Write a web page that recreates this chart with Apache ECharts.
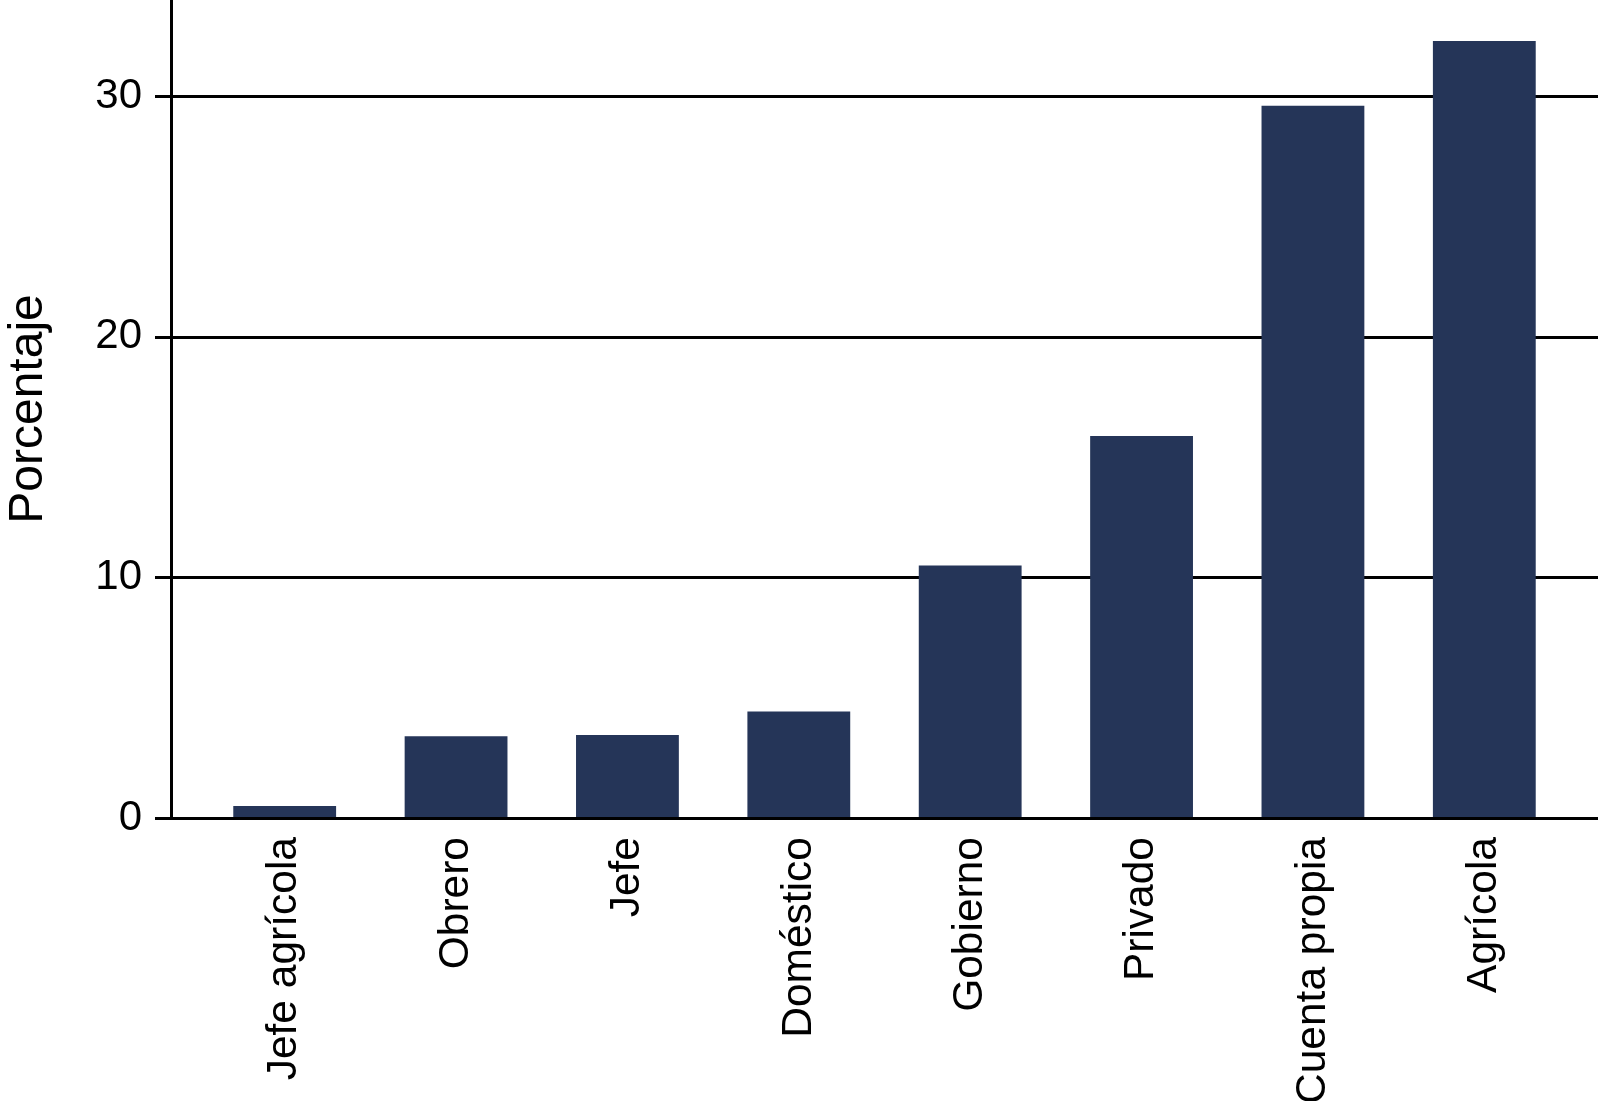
<!DOCTYPE html>
<html>
<head>
<meta charset="utf-8">
<script src="https://cdn.jsdelivr.net/npm/echarts@6/dist/echarts.min.js"></script>
<style>
html,body{margin:0;padding:0;background:#fff;}
#chart{width:1598px;height:1101px;}
</style>
</head>
<body>
<div id="chart"></div>
<script>
const categories = ['Jefe agrícola','Obrero','Jefe','Doméstico','Gobierno','Privado','Cuenta propia','Agrícola'];
const values = [0.5, 3.4, 3.45, 4.43, 10.5, 15.88, 29.6, 32.3];
const yTicks = [0, 10, 20, 30];
const yName = 'Porcentaje';

const FONT = "'Liberation Sans', Arial, Helvetica, sans-serif";
const chart = echarts.init(document.getElementById('chart'), null, {renderer: 'canvas'});
chart.setOption({
  backgroundColor: '#ffffff',
  animation: false,
  grid: [
    {left: 171, right: 0, top: 0, bottom: 283, containLabel: false, outerBoundsMode: 'none'},
    {left: 199, right: 28, top: 0, bottom: 283, containLabel: false, outerBoundsMode: 'none'}
  ],
  xAxis: [
    {gridIndex: 0, type: 'value', min: 0, max: 1, z: 10,
     axisLine: {show: true, lineStyle: {color: '#000', width: 3}},
     axisTick: {show: false}, axisLabel: {show: false}, splitLine: {show: false}},
    {gridIndex: 1, type: 'category', data: categories, boundaryGap: true,
     axisLine: {show: false}, axisTick: {show: false}, splitLine: {show: false},
     axisLabel: {rotate: 90, interval: 0, margin: 19, fontSize: 42.5, color: '#000', fontFamily: FONT}}
  ],
  yAxis: [
    {gridIndex: 0, type: 'value', min: 0, max: 34, interval: 10,
     name: yName, nameLocation: 'middle', nameGap: 118, nameRotate: 90,
     nameTextStyle: {fontSize: 48, color: '#000', fontFamily: FONT},
     axisLine: {show: true, lineStyle: {color: '#000', width: 3}},
     axisTick: {show: true, inside: false, length: 16, customValues: yTicks, lineStyle: {color: '#000', width: 3}},
     axisLabel: {margin: 29, fontSize: 42, color: '#000', fontFamily: FONT, customValues: yTicks},
     splitLine: {show: true, lineStyle: {color: '#000', width: 3}}},
    {gridIndex: 1, type: 'value', min: 0, max: 34, show: false, splitLine: {show: false}}
  ],
  series: [{
    type: 'bar', xAxisIndex: 1, yAxisIndex: 1,
    data: values, barWidth: '60%',
    itemStyle: {color: '#253558'}
  }]
});
</script>
</body>
</html>
